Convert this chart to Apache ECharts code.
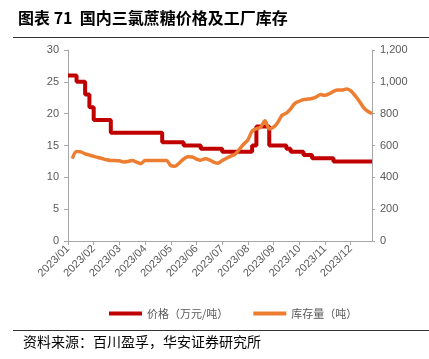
<!DOCTYPE html>
<html><head><meta charset="utf-8">
<script src="https://cdn.jsdelivr.net/npm/echarts@6/dist/echarts.min.js"></script>
<style>html,body{margin:0;padding:0;background:#fff}#c{width:429px;height:359px}</style>
</head><body><div id="c"></div>
<script>
var year = '2023';
var months = ['01','02','03','04','05','06','07','08','09','10','11','12'];
var days = ['01','06','11','16','21','26'];
var categories = [];
months.forEach(function(m){ days.forEach(function(d){ categories.push(year + '/' + m + '/' + d); }); });

var price = [26,26,25,25,23,21,19,19,19,19,17,17,17,17,17,17,17,17,17,17,17,17,
  15.5,15.5,15.5,15.5,15.5,15,15,15,15,14.5,14.5,14.5,14.5,14.5,14,14,14,14,14,14,14,
  15,18,18,18,15,15,15,15,14.5,14,14,14,13.5,13.5,13,13,13,13,13,12.5,12.5,12.5,12.5,12.5,12.5,12.5,12.5,12.5,12.5];
var stock = ['-',518,562,560,548,540,532,525,518,510,506,505,504,496,500,506,496,486,505,505,505,505,505,505,
  474,470,490,515,530,528,515,508,516,510,496,488,505,520,533,545,575,608,635,690,705,715,755,705,715,745,
  790,803,830,865,878,888,892,895,905,920,915,925,940,948,948,955,945,915,880,840,815,800];
var leftTicks = [0,5,10,15,20,25,30];
var rightTicks = [0,200,400,600,800,1000,1200];
var seriesNames = ['价格（万元/吨）','库存量（吨）'];
var titleText = '图表 71  国内三氯蔗糖价格及工厂库存';
var sourceText = '资料来源：百川盈孚，华安证券研究所';

var chart = echarts.init(document.getElementById('c'));
var axisGrey = '#A6A6A6', labelGrey = '#595959';
var numFont = 'Liberation Sans, Arial, sans-serif';
var cjk = '"Noto Sans CJK SC", sans-serif';
function showIdx(i){ return i % days.length === 0; }
chart.setOption({
  animation: false,
  backgroundColor: '#fff',
  title: { text: titleText, left: 13, top: 5,
    textStyle: { fontFamily: cjk, fontSize: 16, fontWeight: 'bold', color: '#000' } },
  graphic: [
    { type: 'line', shape: { x1: 13, y1: 37.5, x2: 429, y2: 37.5 }, style: { stroke: '#333', lineWidth: 1 } },
    { type: 'line', shape: { x1: 13, y1: 330.5, x2: 429, y2: 330.5 }, style: { stroke: '#333', lineWidth: 1 } },
    { type: 'text', left: 23, top: 335, style: { text: sourceText, font: '14px "Noto Sans CJK SC"', fill: '#000' } }
  ],
  legend: { left: 104, top: 303, itemWidth: 33, itemHeight: 4, itemGap: 25,
    icon: 'rect',
    textStyle: { fontFamily: cjk, fontSize: 11, color: labelGrey },
    data: seriesNames },
  grid: { left: 68, right: 57, top: 50, bottom: 118 },
  xAxis: {
    type: 'category', data: categories, boundaryGap: false,
    axisLine: { lineStyle: { color: axisGrey, width: 1 } },
    axisTick: { interval: function(i){ return showIdx(i); }, length: 4, lineStyle: { color: axisGrey } },
    axisLabel: { interval: function(i){ return showIdx(i); }, rotate: 45, margin: 6,
      fontFamily: numFont, fontSize: 11, color: labelGrey,
      formatter: function(v){ return v.slice(0, 7); } },
    splitLine: { show: false }
  },
  yAxis: [
    { type: 'value', min: leftTicks[0], max: leftTicks[leftTicks.length-1], interval: 5,
      axisLine: { show: true, lineStyle: { color: axisGrey } },
      axisTick: { show: true, length: 4, lineStyle: { color: axisGrey } },
      axisLabel: { fontFamily: numFont, fontSize: 11, color: labelGrey, margin: 9 },
      splitLine: { show: false } },
    { type: 'value', min: rightTicks[0], max: rightTicks[rightTicks.length-1], interval: 200,
      axisLine: { show: true, lineStyle: { color: axisGrey } },
      axisTick: { show: true, length: 3, lineStyle: { color: axisGrey } },
      axisLabel: { fontFamily: numFont, fontSize: 11, color: labelGrey, margin: 8,
        formatter: function(v){ return v.toLocaleString('en-US'); } },
      splitLine: { show: false } }
  ],
  series: [
    { name: seriesNames[0], type: 'line', yAxisIndex: 0, data: price, step: 'end',
      symbol: 'none', lineStyle: { color: '#C00000', width: 4 }, itemStyle: { color: '#C00000' } },
    { name: seriesNames[1], type: 'line', yAxisIndex: 1, data: stock, smooth: 0.3,
      symbol: 'none', lineStyle: { color: '#ED7D31', width: 3.5 }, itemStyle: { color: '#ED7D31' } }
  ]
});
</script></body></html>
